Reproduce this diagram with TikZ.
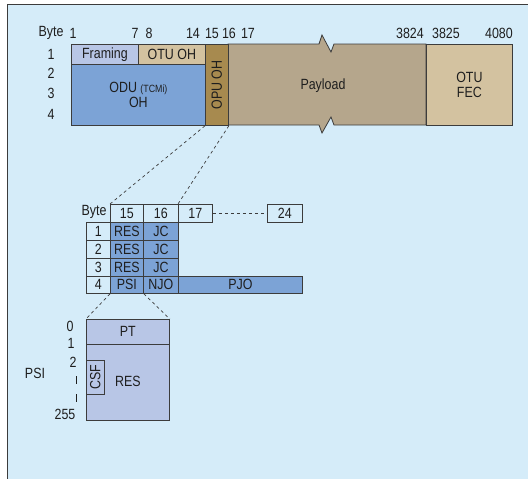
\documentclass[tikz,border=0pt]{standalone}
\usepackage{fontspec}
\setmainfont{Liberation Sans}[FakeStretch=0.84]
\definecolor{bgc}{HTML}{D5ECF9}
\definecolor{lav}{HTML}{B8C6E6}
\definecolor{tanc}{HTML}{D3C2A0}
\definecolor{bluec}{HTML}{7CA3D6}
\definecolor{olive}{HTML}{A78A4F}
\definecolor{pay}{HTML}{B5A68C}
\definecolor{ln}{HTML}{3C3C3C}
\definecolor{txt}{HTML}{1E1E1E}
\begin{document}
\begin{tikzpicture}[x=1pt,y=-1pt,
  every node/.style={font=\fontsize{14.8}{15.5}\selectfont, text=txt},
  cell/.style={draw=ln, line width=0.8pt, inner sep=0pt, anchor=north west, align=center},
  lbl/.style={inner sep=0pt},
  link/.style={draw=ln, line width=0.7pt, dash pattern=on 3pt off 3pt}]
\useasboundingbox (0,0) rectangle (528,479);
\fill[bgc] (7,4) rectangle (528,479);
\draw[ln, line width=1pt] (7,479) -- (7,4) -- (528,4);
% top frame
\draw[fill=pay, draw=ln, line width=0.8pt] (228,44) -- (319,44) -- (322,35) -- (331,52) -- (334,44) -- (426,44) -- (426,125) -- (334,125) -- (331,117) -- (322,133) -- (319,125) -- (228,125) -- cycle;
\node[lbl] (payload) at (323,86) {Payload};
\node[cell, fill=lav, minimum width=67, minimum height=20] (framing) at (71,44) {Framing};
\node[cell, fill=tanc, minimum width=67, minimum height=20] (otuoh) at (138,44) {OTU OH};
\node[cell, fill=bluec, minimum width=134, minimum height=61] (oduoh) at (71,64) {ODU {\fontsize{10.5}{11}\selectfont(TCMi)}\\OH};
\node[cell, fill=olive, minimum width=23, minimum height=81] (opuoh) at (205,44) {};
\node[lbl, rotate=90] (opulbl) at (opuoh.center) {OPU OH};
\node[cell, fill=tanc, minimum width=86, minimum height=81] (otufec) at (426,44) {OTU\\FEC};
% top labels
\node[lbl] (tbyte) at (51,33) {Byte};
\node[lbl] (t1) at (73,33) {1};
\node[lbl] (t7) at (135,33) {7};
\node[lbl] (t8) at (149,33) {8};
\node[lbl] (t14) at (193,33) {14};
\node[lbl] (t15) at (212,33) {15};
\node[lbl] (t16) at (229,33) {16};
\node[lbl] (t17) at (248,33) {17};
\node[lbl] (t3824) at (410,33) {3824};
\node[lbl] (t3825) at (446,33) {3825};
\node[lbl] (t4080) at (499,33) {4080};
\node[lbl] (rr1) at (51,54) {1};
\node[lbl] (rr2) at (51,73) {2};
\node[lbl] (rr3) at (51,93) {3};
\node[lbl] (rr4) at (51,114) {4};
% middle table
\node[lbl] (mbyte) at (94,212) {Byte};
\node[cell, minimum width=33, minimum height=18] (h15) at (110,204) {15};
\node[cell, minimum width=35, minimum height=18] (h16) at (143,204) {16};
\node[cell, minimum width=34, minimum height=18] (h17) at (178,204) {17};
\node[cell, minimum width=35, minimum height=18] (h24) at (267,204) {24};
\draw[link] (h17.east) -- (h24.west);
\node[cell, minimum width=24, minimum height=18] (r1) at (86,222) {1};
\node[cell, minimum width=24, minimum height=18] (r2) at (86,240) {2};
\node[cell, minimum width=24, minimum height=18] (r3) at (86,258) {3};
\node[cell, minimum width=24, minimum height=17] (r4) at (86,276) {4};
\node[cell, fill=bluec, minimum width=33, minimum height=18] (res1) at (110,222) {RES};
\node[cell, fill=bluec, minimum width=33, minimum height=18] (res2) at (110,240) {RES};
\node[cell, fill=bluec, minimum width=33, minimum height=18] (res3) at (110,258) {RES};
\node[cell, fill=bluec, minimum width=35, minimum height=18] (jc1) at (143,222) {JC};
\node[cell, fill=bluec, minimum width=35, minimum height=18] (jc2) at (143,240) {JC};
\node[cell, fill=bluec, minimum width=35, minimum height=18] (jc3) at (143,258) {JC};
\node[cell, fill=bluec, minimum width=33, minimum height=17] (psi) at (110,276) {PSI};
\node[cell, fill=bluec, minimum width=35, minimum height=17] (njo) at (143,276) {NJO};
\node[cell, fill=bluec, minimum width=124, minimum height=17] (pjo) at (178,276) {PJO};
\draw[link] (opuoh.south west) -- (h15.north west);
\draw[link] (opuoh.south east) -- (h17.north west);
% PSI detail
\node[cell, fill=lav, minimum width=83, minimum height=25] (pt) at (86,319) {PT};
\node[cell, fill=lav, minimum width=83, minimum height=76] (resbox) at (86,344) {};
\node[lbl] (reslbl) at (128,381) {RES};
\node[cell, minimum width=18, minimum height=34] (csf) at (86,360) {};
\node[lbl, rotate=90] (csflbl) at (csf.center) {CSF};
\draw[link] (psi.south west) -- (pt.north west);
\draw[link] (psi.south east) -- (pt.north east);
\node[lbl] (p0) at (70,326) {0};
\node[lbl] (p1) at (71,343) {1};
\node[lbl] (p2) at (73,362) {2};
\draw[txt, line width=1pt] (76,376) -- (76,384);
\draw[txt, line width=1pt] (76,394) -- (76,402);
\node[lbl] (p255) at (65,414) {255};
\node[lbl] (psilbl) at (35,373) {PSI};
\end{tikzpicture}
\end{document}
